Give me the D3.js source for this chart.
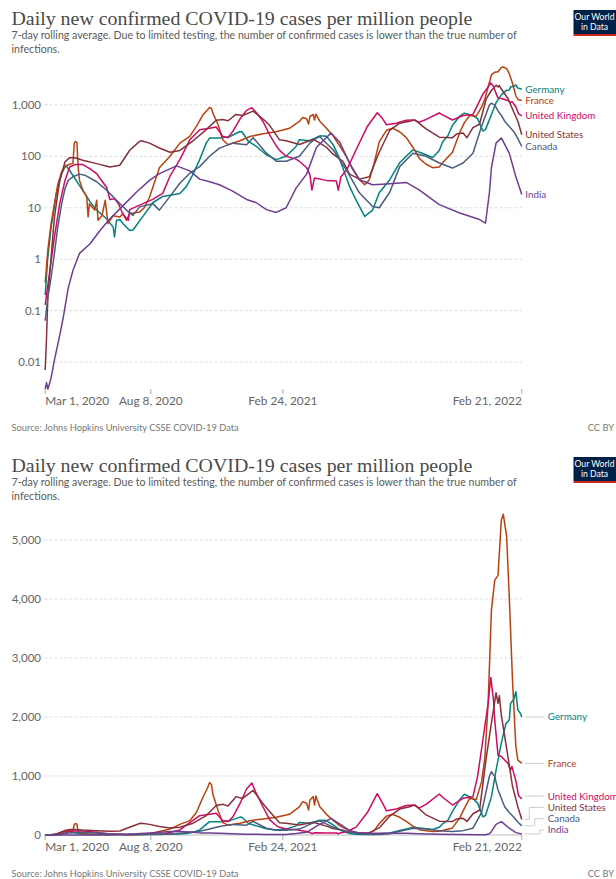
<!DOCTYPE html>
<html><head><meta charset="utf-8">
<script src="https://cdn.jsdelivr.net/npm/d3@7"></script>
<style>body{margin:0;background:#fff}svg{display:block}</style>
</head><body><svg id="c" width="616" height="879"></svg>
<script>
const countries = ["Germany","France","United Kingdom","United States","Canada","India"];
const colors = ["#00847E","#B8420F","#CF0A66","#883039","#4A5D80","#6D3E91"];

const germany = [["2020-03-01",0.2],["2020-03-05",1.1],["2020-03-10",4.2],["2020-03-18",19],["2020-03-26",46],["2020-04-01",67],["2020-04-07",53],["2020-04-15",37],["2020-04-22",27],["2020-04-30",19],["2020-05-08",13],["2020-05-18",9],["2020-06-02",6.1],["2020-06-12",4.2],["2020-06-14",2.7],["2020-06-17",5.7],["2020-06-22",5.9],["2020-06-27",4.9],["2020-07-07",3.6],["2020-07-12",3.7],["2020-07-27",6.8],["2020-08-11",12.5],["2020-08-26",16.6],["2020-09-21",19],["2020-10-01",26],["2020-10-11",45],["2020-10-21",86],["2020-10-31",180],["2020-11-05",226],["2020-11-20",226],["2020-12-05",240],["2020-12-21",303],["2020-12-24",300],["2021-01-03",194],["2021-01-15",155],["2021-01-30",107],["2021-02-14",86],["2021-03-01",100],["2021-03-16",155],["2021-03-21",210],["2021-04-06",200],["2021-04-21",250],["2021-05-01",245],["2021-05-11",170],["2021-05-21",90],["2021-06-05",26],["2021-06-15",14],["2021-06-28",6.8],["2021-07-10",9],["2021-07-20",19.6],["2021-08-05",35],["2021-08-20",75],["2021-08-30",100],["2021-09-09",133],["2021-09-19",120],["2021-10-09",95],["2021-10-19",130],["2021-10-24",190],["2021-11-01",250],["2021-11-08",400],["2021-11-19",600],["2021-11-26",690],["2021-12-09",620],["2021-12-16",540],["2021-12-24",310],["2021-12-28",330],["2022-01-06",650],["2022-01-13",1100],["2022-01-21",1560],["2022-01-28",1890],["2022-02-02",1950],["2022-02-04",2230],["2022-02-09",2300],["2022-02-12",2430],["2022-02-15",2120],["2022-02-19",2060],["2022-02-21",2000]];

const france = [["2020-03-01",0.35],["2020-03-05",1.5],["2020-03-10",5],["2020-03-15",12],["2020-03-20",28],["2020-03-26",50],["2020-04-01",65],["2020-04-07",70],["2020-04-12",72],["2020-04-14",180],["2020-04-16",194],["2020-04-18",185],["2020-04-20",60],["2020-04-22",34],["2020-04-27",22],["2020-05-03",16],["2020-05-05",6.6],["2020-05-07",12],["2020-05-15",9],["2020-05-18",14],["2020-05-20",5.7],["2020-05-26",7],["2020-05-31",14],["2020-06-04",4.9],["2020-06-12",7],["2020-06-22",6.6],["2020-06-27",7.7],["2020-07-02",5.7],["2020-07-07",7.7],["2020-07-22",8.3],["2020-07-29",10],["2020-08-06",16],["2020-08-21",60],["2020-09-06",100],["2020-09-21",180],["2020-10-06",243],["2020-10-16",380],["2020-10-26",640],["2020-11-02",800],["2020-11-05",890],["2020-11-08",850],["2020-11-10",690],["2020-11-18",410],["2020-11-25",209],["2020-12-03",167],["2020-12-21",200],["2021-01-05",243],["2021-01-25",273],["2021-02-14",300],["2021-03-06",350],["2021-03-21",475],["2021-03-26",565],["2021-04-01",537],["2021-04-04",424],["2021-04-06",593],["2021-04-11",650],["2021-04-13",508],["2021-04-15",660],["2021-04-21",480],["2021-05-01",350],["2021-05-11",250],["2021-05-21",160],["2021-05-31",100],["2021-06-10",55],["2021-06-20",35],["2021-06-28",28],["2021-07-05",35],["2021-07-12",70],["2021-07-20",190],["2021-07-31",320],["2021-08-09",352],["2021-08-20",300],["2021-08-30",230],["2021-09-09",150],["2021-09-19",90],["2021-09-29",70],["2021-10-09",60],["2021-10-19",62],["2021-10-24",75],["2021-11-08",120],["2021-11-19",290],["2021-11-26",450],["2021-12-04",620],["2021-12-14",600],["2021-12-22",900],["2021-12-27",1300],["2022-01-01",2235],["2022-01-06",3810],["2022-01-11",4320],["2022-01-16",4400],["2022-01-21",5340],["2022-01-24",5435],["2022-01-29",5060],["2022-02-02",4040],["2022-02-07",2600],["2022-02-12",1500],["2022-02-15",1270],["2022-02-21",1215]];

const unitedKingdom = [["2020-03-01",0.13],["2020-03-08",0.6],["2020-03-15",2.7],["2020-03-23",12],["2020-03-31",34],["2020-04-07",62],["2020-04-15",69],["2020-04-27",69],["2020-05-08",57],["2020-05-18",46],["2020-05-23",37],["2020-06-02",25],["2020-06-07",14.5],["2020-06-14",15],["2020-06-20",12],["2020-06-27",7.3],["2020-07-05",5.7],["2020-07-07",9.2],["2020-07-27",12],["2020-08-11",14.5],["2020-08-26",19],["2020-09-06",41],["2020-09-21",86],["2020-10-06",209],["2020-10-21",327],["2020-11-05",350],["2020-11-15",370],["2020-11-25",243],["2020-12-03",230],["2020-12-10",303],["2020-12-21",530],["2020-12-31",780],["2021-01-08",880],["2021-01-15",700],["2021-01-25",475],["2021-02-04",260],["2021-02-14",160],["2021-02-19",130],["2021-03-01",100],["2021-03-16",88],["2021-03-21",80],["2021-04-01",60],["2021-04-06",44],["2021-04-09",22],["2021-04-13",38],["2021-05-01",34],["2021-05-16",33],["2021-05-19",22],["2021-05-23",40],["2021-06-01",55],["2021-06-15",134],["2021-07-02",380],["2021-07-17",700],["2021-07-25",540],["2021-07-31",410],["2021-08-15",440],["2021-08-30",500],["2021-09-09",510],["2021-09-19",460],["2021-09-29",520],["2021-10-19",695],["2021-10-24",640],["2021-11-08",508],["2021-11-24",622],["2021-12-09",650],["2021-12-16",990],["2021-12-24",1610],["2022-01-01",2230],["2022-01-05",2670],["2022-01-09",2300],["2022-01-11",1950],["2022-01-16",1350],["2022-01-21",1330],["2022-01-26",1270],["2022-01-31",1215],["2022-02-04",1100],["2022-02-06",1160],["2022-02-09",1040],["2022-02-12",920],["2022-02-16",670],["2022-02-21",610]];

const unitedStates = [["2020-03-01",0.007],["2020-03-03",0.03],["2020-03-05",0.18],["2020-03-10",1.1],["2020-03-15",6.6],["2020-03-23",34],["2020-03-31",78],["2020-04-07",94],["2020-04-15",94],["2020-04-27",84],["2020-05-18",72],["2020-06-07",62],["2020-06-22",67],["2020-07-07",131],["2020-07-22",195],["2020-07-25",200],["2020-08-06",180],["2020-08-21",145],["2020-09-06",120],["2020-09-21",130],["2020-10-11",200],["2020-10-31",330],["2020-11-15",500],["2020-11-25",520],["2020-12-03",490],["2020-12-15",650],["2020-12-25",620],["2021-01-10",755],["2021-01-25",530],["2021-02-04",400],["2021-02-19",209],["2021-03-01",200],["2021-03-21",170],["2021-04-11",215],["2021-05-01",150],["2021-05-11",110],["2021-05-26",80],["2021-06-05",45],["2021-06-20",36],["2021-07-05",40],["2021-07-20",120],["2021-08-05",320],["2021-08-20",440],["2021-09-04",480],["2021-09-12",510],["2021-09-29",340],["2021-10-19",235],["2021-11-08",230],["2021-11-14",270],["2021-11-24",282],["2021-11-30",230],["2021-12-09",360],["2021-12-19",420],["2021-12-29",1300],["2022-01-06",1900],["2022-01-13",2410],["2022-01-16",2230],["2022-01-18",2360],["2022-01-21",2030],["2022-01-31",1330],["2022-02-07",820],["2022-02-15",480],["2022-02-21",262]];

const canada = [["2020-03-01",0.064],["2020-03-05",0.18],["2020-03-10",0.45],["2020-03-15",1.3],["2020-03-20",4.2],["2020-03-26",12],["2020-03-31",23.5],["2020-04-05",34],["2020-04-12",40],["2020-04-22",45],["2020-04-30",43],["2020-05-18",32],["2020-06-02",22],["2020-06-17",14],["2020-07-02",9],["2020-07-12",7.1],["2020-07-22",10.4],["2020-08-11",12],["2020-08-21",9],["2020-09-06",16.6],["2020-09-21",30],["2020-10-06",47],["2020-10-21",63],["2020-11-05",100],["2020-11-20",144],["2020-12-10",180],["2020-12-31",167],["2021-01-10",230],["2021-01-30",115],["2021-02-14",80],["2021-03-01",80],["2021-03-21",100],["2021-04-06",180],["2021-04-16",226],["2021-04-21",240],["2021-05-11",134],["2021-05-31",55],["2021-06-20",19.5],["2021-07-10",10.6],["2021-07-20",10],["2021-08-05",20],["2021-08-20",63],["2021-09-09",115],["2021-09-29",100],["2021-10-19",74],["2021-11-08",59],["2021-11-24",74],["2021-12-09",115],["2021-12-22",380],["2022-01-03",1000],["2022-01-06",1075],["2022-01-11",990],["2022-01-16",763],["2022-01-21",622],["2022-01-26",480],["2022-02-02",380],["2022-02-09",300],["2022-02-15",220],["2022-02-21",155]];

const india = [["2020-03-01",0.003],["2020-03-03",0.004],["2020-03-05",0.003],["2020-03-08",0.004],["2020-03-10",0.005],["2020-03-15",0.011],["2020-03-23",0.033],["2020-03-28",0.07],["2020-04-05",0.28],["2020-04-12",0.6],["2020-04-22",1.3],["2020-05-08",2],["2020-05-23",3.6],["2020-06-07",6.1],["2020-06-27",11],["2020-07-17",20],["2020-08-06",34],["2020-08-21",46],["2020-09-16",65],["2020-10-06",52],["2020-10-21",36],["2020-11-05",32],["2020-11-20",28],["2020-12-10",21],["2020-12-31",14.5],["2021-01-15",12.5],["2021-01-30",9.2],["2021-02-14",8.1],["2021-03-01",10],["2021-03-16",24],["2021-04-01",45],["2021-04-16",150],["2021-05-08",283],["2021-05-21",190],["2021-06-05",74],["2021-06-20",35],["2021-07-10",28],["2021-07-31",29],["2021-08-30",31],["2021-09-19",22],["2021-10-19",11.5],["2021-11-19",7.9],["2021-12-19",5.9],["2021-12-28",5],["2022-01-03",20],["2022-01-06",60],["2022-01-13",180],["2022-01-21",227],["2022-02-02",115],["2022-02-12",40],["2022-02-21",18]];

const seriesData = [germany, france, unitedKingdom, unitedStates, canada, india];
const logTicks = [0.01, 0.1, 1, 10, 100, 1000];
const linearTicks = [0, 1000, 2000, 3000, 4000, 5000];
const xTickDates = ["2020-03-01","2020-08-08","2021-02-24","2022-02-21"];
const xTickLabels = ["Mar 1, 2020","Aug 8, 2020","Feb 24, 2021","Feb 21, 2022"];
const titleText = "Daily new confirmed COVID-19 cases per million people";
const subtitleLines = ["7-day rolling average. Due to limited testing, the number of confirmed cases is lower than the true number of","infections."];
const sourceText = "Source: Johns Hopkins University CSSE COVID-19 Data";
const licenseText = "CC BY";

const svg = d3.select("#c");
const parse = d3.utcParse("%Y-%m-%d");
const series = countries.map((name, i) => ({
  name, color: colors[i],
  values: seriesData[i].map(([d, v]) => ({date: parse(d), value: v}))
}));
const allValues = series.flatMap(s => s.values.map(p => p.value));
const x = d3.scaleUtc()
  .domain([parse(xTickDates[0]), parse(xTickDates[xTickDates.length - 1])])
  .range([45.2, 521.8]);

const sansFam = "Lato, 'Noto Sans', sans-serif";
const serifFam = "'Liberation Serif', 'DejaVu Serif', serif";
function fitSize(text, family, target) {
  const t = svg.append("text").style("font-family", family).attr("font-size", 20).text(text);
  const w = t.node().getComputedTextLength();
  t.remove();
  return 20 * target / w;
}
const titleSize = fitSize(titleText, serifFam, 461);
const subSize = fitSize(subtitleLines[0], sansFam, 506);
const tickSize = fitSize("1,000", sansFam, 29.3);
const xTickSize = fitSize("Mar 1, 2020", sansFam, 64);
const labelSize = fitSize("United Kingdom", sansFam, 70);
const sourceSize = fitSize(sourceText, sansFam, 227.6);

function txt(parent, family) {
  return parent.append("text").style("font-family", family || sansFam);
}

function header(oy) {
  const g = svg.append("g").attr("transform", `translate(0,${oy})`);
  txt(g, serifFam).attr("x", 11.5).attr("y", 25)
    .attr("font-size", titleSize).attr("fill", "#4a4a4a").text(titleText);
  subtitleLines.forEach((line, i) => {
    txt(g).attr("x", 11.5).attr("y", 38.5 + i * 14.5)
      .attr("font-size", subSize).attr("fill", "#5b5b5b").text(line);
  });
  g.append("rect").attr("x", 573.5).attr("y", 10).attr("width", 44).attr("height", 24).attr("fill", "#002147");
  g.append("rect").attr("x", 573.5).attr("y", 34).attr("width", 44).attr("height", 2).attr("fill", "#ce261e");
  txt(g).attr("x", 594.5).attr("y", 20).attr("text-anchor", "middle")
    .attr("font-size", 8.6).attr("fill", "#fff").text("Our World");
  txt(g).attr("x", 594.5).attr("y", 29.5).attr("text-anchor", "middle")
    .attr("font-size", 8.6).attr("fill", "#fff").text("in Data");
}

function footer(yBase) {
  txt(svg).attr("x", 11.5).attr("y", yBase)
    .attr("font-size", sourceSize).attr("fill", "#777").text(sourceText);
  txt(svg).attr("x", 614).attr("y", yBase).attr("text-anchor", "end")
    .attr("font-size", sourceSize).attr("fill", "#777").text(licenseText);
}

function drawChart(cfg) {
  const y = cfg.y;
  const g = svg.append("g");
  const x1 = x.range()[1];
  cfg.ticks.forEach(t => {
    const yy = y(t);
    const solid = cfg.baselineZero && t === 0;
    g.append("line").attr("x1", 44.5).attr("x2", x1).attr("y1", yy).attr("y2", yy)
      .attr("stroke", solid ? "#bbb" : "#ddd").attr("stroke-width", 1)
      .attr("stroke-dasharray", solid ? null : "3,2");
    txt(g).attr("x", 41).attr("y", yy).attr("dy", "0.35em").attr("text-anchor", "end")
      .attr("font-size", tickSize).attr("fill", "#666").text(d3.format(",")(t));
  });
  xTickDates.forEach((d, i) => {
    const xx = x(parse(d));
    g.append("line").attr("x1", xx).attr("x2", xx).attr("y1", cfg.bottom).attr("y2", cfg.bottom + 5)
      .attr("stroke", "#aaa");
    txt(g).attr("x", xx).attr("y", cfg.xLabelY)
      .attr("text-anchor", i === 0 ? "start" : (i === xTickDates.length - 1 ? "end" : "middle"))
      .attr("font-size", xTickSize).attr("fill", "#666").text(xTickLabels[i]);
  });
  const line = d3.line().x(p => x(p.date)).y(p => y(p.value));
  g.selectAll("path.series").data(series).join("path").attr("class", "series")
    .attr("d", s => line(s.values)).attr("fill", "none").attr("stroke", s => s.color)
    .attr("stroke-width", 1.5).attr("stroke-linejoin", "round");
  const labels = series.map(s => ({s, dataY: y(s.values[s.values.length - 1].value)}));
  labels.forEach(l => l.y = l.dataY);
  if (cfg.spread) {
    const gap = 11.3, maxY = cfg.bottom - 5;
    labels.sort((a, b) => a.dataY - b.dataY);
    for (let i = 1; i < labels.length; i++) labels[i].y = Math.max(labels[i].y, labels[i - 1].y + gap);
    labels[labels.length - 1].y = Math.min(labels[labels.length - 1].y, maxY);
    for (let i = labels.length - 2; i >= 0; i--) labels[i].y = Math.min(labels[i].y, labels[i + 1].y - gap);
    let k = 0;
    labels.forEach(l => {
      if (Math.abs(l.y - l.dataY) < 3) {
        g.append("path").attr("d", `M${x1 + 3},${l.y}H${x1 + 22}`).attr("stroke", "#ccc").attr("fill", "none");
      } else {
        const bx = x1 + 7.5 + 5.3 * k; k++;
        g.append("path").attr("d", `M${x1 + 3},${l.dataY}H${bx}V${l.y}H${x1 + 22}`)
          .attr("stroke", "#ccc").attr("fill", "none");
      }
      txt(g).attr("x", x1 + 26).attr("y", l.y).attr("dy", "0.35em")
        .attr("font-size", labelSize).attr("fill", l.s.color).text(l.s.name);
    });
  } else {
    labels.forEach(l => {
      txt(g).attr("x", x1 + 3.5).attr("y", l.y).attr("dy", "0.35em")
        .attr("font-size", labelSize).attr("fill", l.s.color).text(l.s.name);
    });
  }
}

header(0);
drawChart({
  y: d3.scaleLog().domain(d3.extent(allValues)).range([389, 67]),
  ticks: logTicks, bottom: 389, xLabelY: 404.5, spread: false, baselineZero: false
});
footer(430.5);

header(447);
drawChart({
  y: d3.scaleLinear().domain([0, d3.max(allValues)]).range([835, 514.3]),
  ticks: linearTicks, bottom: 835, xLabelY: 851, spread: true, baselineZero: true
});
footer(876.5);
</script></body></html>
